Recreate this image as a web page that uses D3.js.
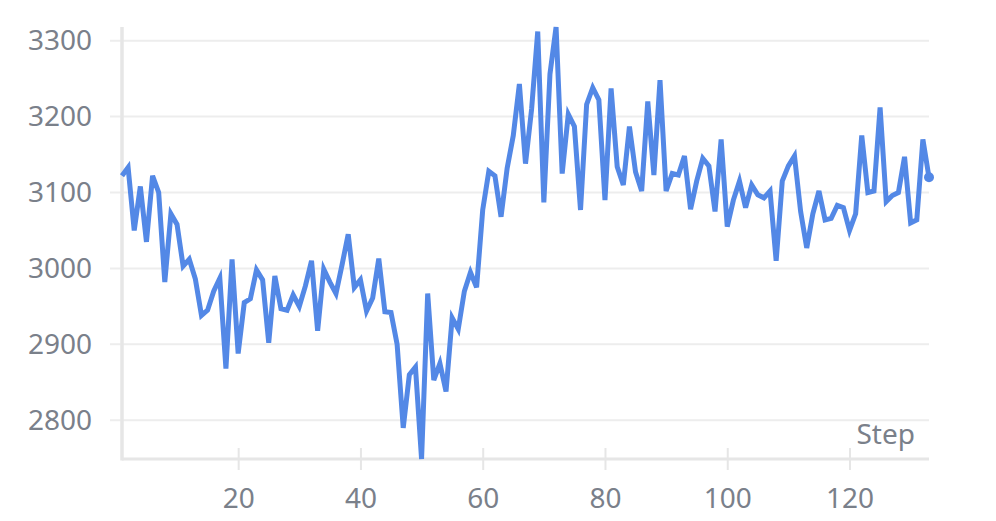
<!DOCTYPE html>
<html>
<head>
<meta charset="utf-8">
<script src="https://cdn.jsdelivr.net/npm/d3@7"></script>
<style>
  body { margin: 0; background: #fff; }
  svg text { font-family: "Noto Sans", sans-serif; fill: #7a808a; }
</style>
</head>
<body>
<svg id="chart" width="996" height="521"></svg>
<script>
// values, one per step (1..133)
var steps = d3.range(1, 134);
var values = [
  3122, 3133, 3050, 3108, 3035, 3122, 3100, 2982, 3072, 3058,
  3003, 3012, 2986, 2938, 2945, 2970, 2987, 2868, 3012, 2888,
  2955, 2960, 2998, 2985, 2902, 2990, 2947, 2945, 2965, 2950,
  2977, 3010, 2918, 2999, 2982, 2967, 3005, 3045, 2975, 2985,
  2944, 2961, 3013, 2943, 2942, 2900, 2790, 2860, 2870, 2749,
  2967, 2853, 2875, 2838, 2935, 2920, 2970, 2995, 2975, 3077,
  3128, 3122, 3068, 3132, 3175, 3243, 3138, 3210, 3312, 3087,
  3256, 3318, 3125, 3203, 3187, 3077, 3216, 3238, 3222, 3090,
  3237, 3134, 3110, 3187, 3127, 3102, 3220, 3123, 3248, 3102,
  3125, 3123, 3148, 3078, 3115, 3145, 3135, 3075, 3170, 3055,
  3090, 3115, 3080, 3110, 3097, 3093, 3102, 3010, 3115, 3135,
  3148, 3075, 3027, 3072, 3102, 3064, 3066, 3083, 3080, 3050,
  3072, 3175, 3100, 3102, 3212, 3088, 3096, 3100, 3147, 3060,
  3064, 3170, 3120
];
var xTicks = [20, 40, 60, 80, 100, 120];
var yTicks = [2800, 2900, 3000, 3100, 3200, 3300];
var xLabel = "Step";

var data = steps.map(function(s, i) { return {step: s, value: values[i]}; });

var svg = d3.select("#chart"),
margin = {top: 27, right: 67, bottom: 62, left: 122},
width = +svg.attr("width") - margin.left - margin.right,
height = +svg.attr("height") - margin.top - margin.bottom;

var g = svg.append("g")
.attr("transform", "translate(" + margin.left + "," + margin.top + ")");

var x = d3.scaleLinear().domain(d3.extent(steps)).range([0, width]),
y = d3.scaleLinear().domain(d3.extent(values)).range([height, 0]);

// horizontal grid
g.append("g")
.selectAll("line")
.data(yTicks)
.enter().append("line")
.attr("x1", -12)
.attr("x2", width)
.attr("y1", function(d) { return y(d); })
.attr("y2", function(d) { return y(d); })
.attr("stroke", "#ededed")
.attr("stroke-width", 2);

// y axis
var yAxis = g.append("g")
.call(d3.axisLeft(y).tickValues(yTicks).tickSize(0).tickPadding(30).tickFormat(d3.format("d")));
yAxis.select(".domain").remove();
yAxis.selectAll("text").attr("font-size", "28px");

g.append("line")
.attr("x1", 0).attr("x2", 0)
.attr("y1", 0).attr("y2", height + 1.5)
.attr("stroke", "#e6e6e6")
.attr("stroke-width", 3.5);

// x axis
var xAxis = g.append("g")
.attr("transform", "translate(0," + height + ")")
.call(d3.axisBottom(x).tickValues(xTicks).tickSize(11).tickPadding(18));
xAxis.select(".domain").remove();
xAxis.selectAll("line").attr("stroke", "#e6e6e6").attr("stroke-width", 2).attr("y1", -11);
xAxis.selectAll("text").attr("font-size", "28px");

g.append("line")
.attr("x1", 0).attr("x2", width)
.attr("y1", height).attr("y2", height)
.attr("stroke", "#e6e6e6")
.attr("stroke-width", 3);

g.append("text")
.attr("x", width - 14)
.attr("y", height - 15)
.attr("text-anchor", "end")
.attr("font-size", "28px")
.text(xLabel);

// the series
var line = d3.line()
.x(function(d) { return x(d.step); })
.y(function(d) { return y(d.value); });

g.append("path")
.datum(data)
.attr("fill", "none")
.attr("stroke", "#5388e6")
.attr("stroke-width", 5)
.attr("d", line);

var last = data[data.length - 1];
g.append("circle")
.attr("cx", x(last.step))
.attr("cy", y(last.value))
.attr("r", 5)
.attr("fill", "#5388e6");
</script>
</body>
</html>
